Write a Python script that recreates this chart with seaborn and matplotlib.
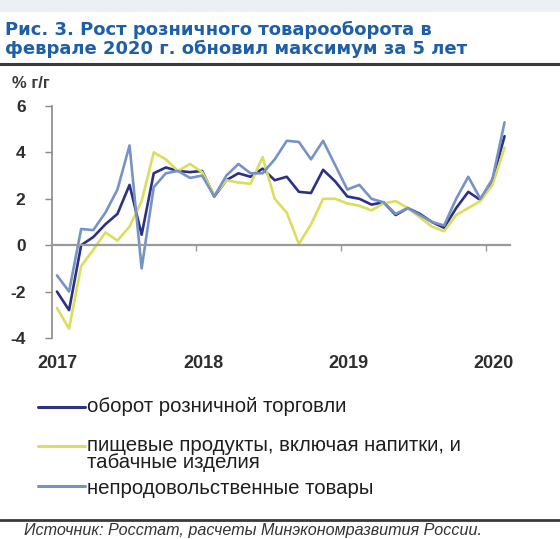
import numpy as np
import pandas as pd
import matplotlib
matplotlib.use("Agg")
import matplotlib.pyplot as plt
import matplotlib.transforms as mtransforms
from matplotlib.lines import Line2D
from matplotlib.patches import Rectangle
import seaborn as sns

# Monthly year-on-year growth, Jan 2017 .. Feb 2020, %
months = pd.period_range("2017-01", "2020-02", freq="M").astype(str).tolist()

retail = [-2.0, -2.8, 0.0, 0.35, 0.9, 1.35, 2.6, 0.45, 3.1, 3.35, 3.2, 3.15,
          3.2, 2.1, 2.8, 3.1, 2.95, 3.3, 2.8, 2.95, 2.3, 2.25, 3.25, 2.75,
          2.1, 2.0, 1.75, 1.85, 1.3, 1.6, 1.35, 1.0, 0.75, 1.6, 2.3, 1.95,
          2.8, 4.7]
food = [-2.7, -3.6, -0.9, -0.2, 0.55, 0.2, 0.8, 1.9, 4.0, 3.7, 3.2, 3.5,
        3.15, 2.15, 2.8, 2.7, 2.65, 3.8, 2.0, 1.4, 0.05, 0.9, 2.0, 2.0,
        1.8, 1.7, 1.5, 1.8, 1.9, 1.6, 1.2, 0.8, 0.6, 1.3, 1.6, 1.9,
        2.6, 4.2]
nonfood = [-1.3, -2.0, 0.7, 0.65, 1.4, 2.4, 4.3, -1.0, 2.5, 3.1, 3.2, 2.9,
           3.0, 2.1, 3.0, 3.5, 3.1, 3.1, 3.7, 4.5, 4.45, 3.7, 4.5, 3.45,
           2.4, 2.6, 2.0, 1.85, 1.35, 1.6, 1.3, 1.0, 0.85, 2.0, 2.95, 2.0,
           2.85, 5.3]

series_names = ["оборот розничной торговли",
                "пищевые продукты, включая напитки, и\nтабачные изделия",
                "непродовольственные товары"]
series_colors = ["#2D3183", "#D9DF5C", "#7793C6"]

year_labels = ["2017", "2018", "2019", "2020"]
y_ticks = [-4, -2, 0, 2, 4, 6]

title = "Рис. 3. Рост розничного товарооборота в\nфеврале 2020 г. обновил максимум за 5 лет"
unit_label = "% г/г"
source = "Источник: Росстат, расчеты Минэкономразвития России."

# long-format table for seaborn
idx = np.arange(len(months))
df = pd.concat([
    pd.DataFrame({"t": idx, "month": months, "value": vals, "series": name})
    for name, vals in zip(series_names, [retail, food, nonfood])
], ignore_index=True)

sns.set_theme(style="white")
plt.rcParams["font.family"] = ["Liberation Sans", "DejaVu Sans"]

W, H = 560, 539
fig = plt.figure(figsize=(W / 100, H / 100), dpi=100)


def fx(px):
    return px / W


def fy(py):
    return 1 - py / H


# light band at the very top
fig.add_artist(Rectangle((0, fy(12)), 1, 12 / H, transform=fig.transFigure,
                         color="#ECEFF3", lw=0, zorder=0))

fig.text(fx(5), fy(21), title, color="#1F5FA6", fontsize=13.0, fontweight="bold",
         family=["DejaVu Sans"], va="top", ha="left", linespacing=1.02)
fig.add_artist(Line2D([0, 1], [fy(64), fy(64)], transform=fig.transFigure,
                      color="#3A3A3A", lw=2.2))

ax = fig.add_axes([fx(52), fy(338), fx(510 - 52), (338 - 106) / H])
sns.lineplot(data=df, x="t", y="value", hue="series", hue_order=series_names,
             palette=dict(zip(series_names, series_colors)), lw=1.9,
             legend=False, ax=ax)

ax.set_xlim(-0.41, 37.45)
ax.set_ylim(-4, 6)
ax.set_xlabel("")
ax.set_ylabel("")

for s in ["top", "right"]:
    ax.spines[s].set_visible(False)
ax.spines["left"].set_color("#8A8A8A")
ax.spines["left"].set_linewidth(1.2)
ax.spines["bottom"].set_position(("data", 0))
ax.spines["bottom"].set_color("#9A9A9A")
ax.spines["bottom"].set_linewidth(1.6)

ax.set_yticks(y_ticks)
ax.set_yticklabels([str(v) for v in y_ticks])
ax.tick_params(axis="y", direction="out", length=5, width=1.0, color="#8A8A8A",
               pad=14, labelsize=12.5, labelcolor="#2E2E2E", left=True)
for lab in ax.get_yticklabels():
    lab.set_fontweight("bold")

# year boundaries marked on the zero line
ax.set_xticks([11.5, 23.5, 35.5])
ax.set_xticklabels([])
ax.tick_params(axis="x", direction="out", length=4, width=1.0, color="#9A9A9A",
               bottom=True)

trans = mtransforms.blended_transform_factory(ax.transData, ax.transAxes)
for k, yl in enumerate(year_labels):
    ax.text(12 * k + (0.1 if k else 0), -0.108, yl, transform=trans,
            ha="center", va="center", fontsize=13, fontweight="bold",
            color="#2E2E2E")

fig.text(fx(12), fy(83), unit_label, fontsize=12, fontweight="bold",
         color="#3A3A3A", ha="left", va="center")

# legend: handle, then label (second entry wraps onto two lines)
legend_y = [407, 446, 486]
label_top = [None, 436, None]
text_y = [407, None, 489]
for name, col, ly, tt, ty in zip(series_names, series_colors, legend_y,
                                 label_top, text_y):
    fig.add_artist(Line2D([fx(38), fx(85)], [fy(ly), fy(ly)],
                          transform=fig.transFigure, color=col, lw=2.2))
    if tt is not None:
        fig.text(fx(87), fy(tt), name, fontsize=14.7, color="#1E1E1E",
                 ha="left", va="top", linespacing=0.88)
    else:
        fig.text(fx(87), fy(ty), name, fontsize=14.7, color="#1E1E1E",
                 ha="left", va="center")

fig.add_artist(Line2D([0, 1], [fy(520), fy(520)], transform=fig.transFigure,
                      color="#3A3A3A", lw=2.0))
fig.text(fx(24), fy(531), source, fontsize=11.6, style="italic",
         color="#333333", ha="left", va="center")

fig.savefig("out.png", dpi=100)
